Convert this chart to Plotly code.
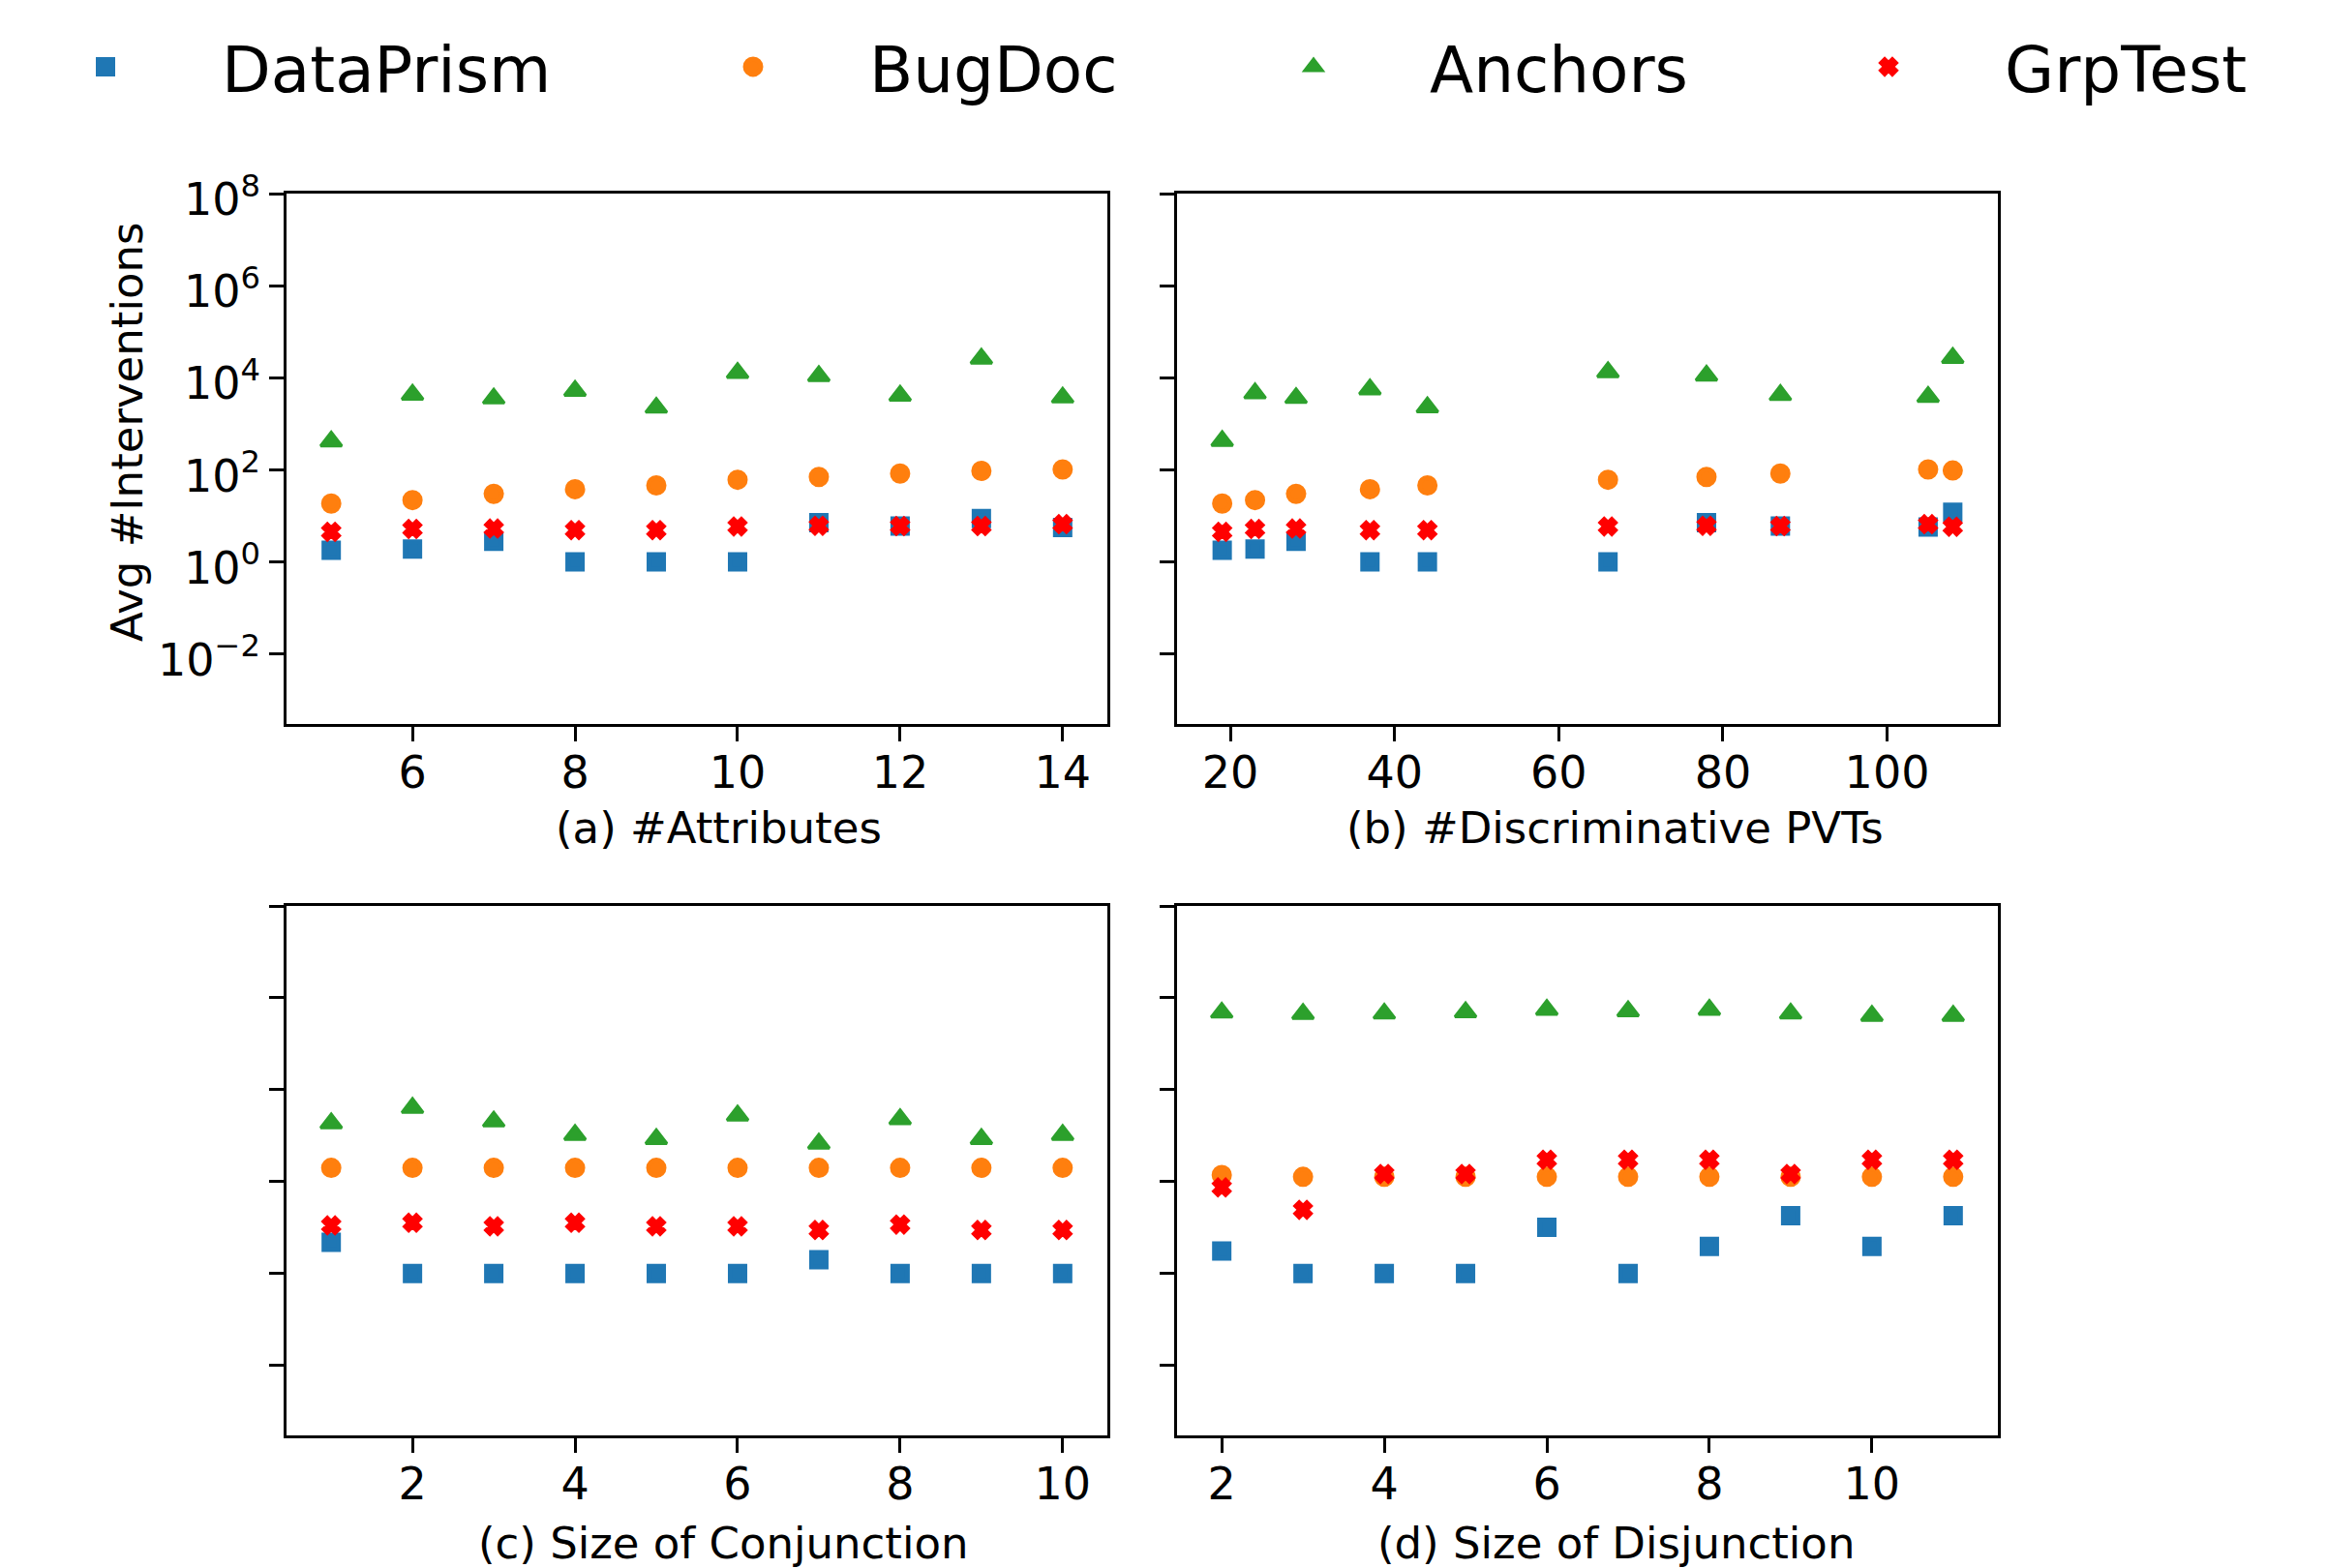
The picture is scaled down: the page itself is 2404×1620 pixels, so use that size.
import plotly.graph_objects as go

# ---------------- data ----------------
series_names = ["DataPrism", "BugDoc", "Anchors", "GrpTest"]
series_colors = ["#1f77b4", "#ff7f0e", "#2ca02c", "#ff0000"]
series_symbols = ["square", "circle", "triangle-up", "x"]
series_sizes = [15, 16, 19, 14]
series_linewidths = [5, 5, 3, 4]

# (a) #Attributes
attr_x = [5, 6, 7, 8, 9, 10, 11, 12, 13, 14]
attr_dataprism = [1.8, 1.9, 2.8, 1, 1, 1, 7.1, 6.0, 8.8, 5.6]
attr_bugdoc = [18.5, 22, 30, 38, 46, 61, 70, 83, 95, 102]
attr_anchors = [417, 4300, 3560, 5200, 2250, 12800, 10900, 4100, 26000, 3740]
attr_grptest = [4.5, 5.2, 5.3, 4.9, 4.9, 5.9, 6.1, 6.0, 6.0, 6.6]

# (b) #Discriminative PVTs
pvt_x = [19, 23, 28, 37, 44, 66, 78, 87, 105, 108]
pvt_dataprism = [1.8, 1.9, 2.8, 1, 1, 1, 7.1, 6.0, 5.7, 12]
pvt_bugdoc = [18.5, 22, 30, 38, 46, 61, 70, 83, 102, 97]
pvt_anchors = [425, 4600, 3650, 5600, 2300, 13200, 11200, 4230, 3860, 27000]
pvt_grptest = [4.5, 5.2, 5.3, 4.9, 4.9, 5.9, 6.1, 6.0, 6.6, 5.8]

# (c) Size of Conjunction
conj_x = [1, 2, 3, 4, 5, 6, 7, 8, 9, 10]
conj_dataprism = [4.8, 1, 1, 1, 1, 1, 2.0, 1, 1, 1]
conj_bugdoc = [200, 200, 200, 200, 200, 200, 200, 200, 200, 200]
conj_anchors = [1880, 4050, 2050, 1050, 855, 2760, 675, 2300, 855, 1050]
conj_grptest = [11.2, 12.8, 10.7, 12.8, 10.7, 10.7, 8.9, 11.7, 8.9, 8.9]

# (d) Size of Disjunction
disj_x = [2, 3, 4, 5, 6, 7, 8, 9, 10, 11]
disj_dataprism = [3.1, 1, 1, 1, 10.2, 1, 3.9, 18.2, 3.9, 18.2]
disj_bugdoc = [140, 128, 128, 128, 128, 128, 128, 128, 128, 128]
disj_anchors = [480000, 450000, 457000, 490000, 550000, 513000, 550000, 457000, 407000, 407000]
disj_grptest = [75, 24.5, 147, 147, 300, 300, 300, 147, 300, 300]

panel_titles = ["(a) #Attributes", "(b) #Discriminative PVTs",
                "(c) Size of Conjunction", "(d) Size of Disjunction"]
y_title = "Avg #Interventions"
y_tick_vals = [1e-2, 1e0, 1e2, 1e4, 1e6, 1e8]
y_tick_text = ["10<sup>\u22122</sup>", "10<sup>0</sup>", "10<sup>2</sup>",
               "10<sup>4</sup>", "10<sup>6</sup>", "10<sup>8</sup>"]

panels = [
    (attr_x, [attr_dataprism, attr_bugdoc, attr_anchors, attr_grptest]),
    (pvt_x, [pvt_dataprism, pvt_bugdoc, pvt_anchors, pvt_grptest]),
    (conj_x, [conj_dataprism, conj_bugdoc, conj_anchors, conj_grptest]),
    (disj_x, [disj_dataprism, disj_bugdoc, disj_anchors, disj_grptest]),
]

# ---------------- layout geometry ----------------
W, H = 2404, 1620
OFF = 8  # page offset of the figure inside the browser window
FONT = "DejaVu Sans"


def px_x(v):
    return (v - OFF) / W


def px_y(v):
    return 1 - (v - OFF) / H


x_domains = [[px_x(296), px_x(1144)], [px_x(1216), px_x(2064)],
             [px_x(296), px_x(1144)], [px_x(1216), px_x(2064)]]
y_domains = [[px_y(748), px_y(200)], [px_y(748), px_y(200)],
             [px_y(1483), px_y(936)], [px_y(1483), px_y(936)]]
x_ranges = [[4.45, 14.55], [13.5, 113.5], [0.45, 10.55], [1.45, 11.55]]
x_dticks = [2, 20, 2, 2]
legend_ids = ["legend", "legend2", "legend3", "legend4"]
legend_marker_px = [107, 776, 1355, 1949]
LEGEND_SYMBOL_OFFSET = 126

fig = go.Figure()

for p, (xs, ys_list) in enumerate(panels):
    suffix = "" if p == 0 else str(p + 1)
    for s, ys in enumerate(ys_list):
        fig.add_trace(go.Scatter(
            x=xs, y=ys, mode="markers",
            name=series_names[s],
            legendgroup=series_names[s],
            legend=legend_ids[s],
            showlegend=(p == 0),
            marker=dict(symbol=series_symbols[s], size=series_sizes[s],
                        color=series_colors[s],
                        line=dict(width=series_linewidths[s], color=series_colors[s])),
            xaxis="x" + suffix, yaxis="y" + suffix,
        ))

axis_common = dict(
    showline=True, linecolor="black", linewidth=2.5, mirror=True,
    ticks="outside", ticklen=15, tickwidth=2.5, tickcolor="black",
    showgrid=False, zeroline=False,
    tickfont=dict(family=FONT, size=46, color="black"),
)

layout = dict(
    width=W, height=H,
    margin=dict(l=0, r=0, t=0, b=0, autoexpand=False),
    paper_bgcolor="white", plot_bgcolor="white",
    font=dict(family=FONT, color="black"),
    showlegend=True,
)

for s, lid in enumerate(legend_ids):
    layout[lid] = dict(
        orientation="h",
        x=(legend_marker_px[s] - LEGEND_SYMBOL_OFFSET) / W, xanchor="left",
        y=1 - 61 / H, yanchor="middle",
        font=dict(family=FONT, size=66, color="black"),
        itemwidth=230, bgcolor="rgba(0,0,0,0)", borderwidth=0,
    )

for p in range(4):
    suffix = "" if p == 0 else str(p + 1)
    layout["xaxis" + suffix] = dict(
        axis_common, domain=x_domains[p], range=x_ranges[p],
        anchor="y" + suffix, tick0=0, dtick=x_dticks[p],
        ticklabelstandoff=-7,
    )
    layout["yaxis" + suffix] = dict(
        axis_common, domain=y_domains[p], type="log", range=[-3.52, 8],
        anchor="x" + suffix, tickmode="array", tickvals=y_tick_vals,
        ticktext=y_tick_text, showticklabels=(p == 0), ticklabelshift=6,
    )

fig.update_layout(**layout)

title_pos = [(742, 855), (1668, 855), (747, 1594), (1669, 1594)]
for p in range(4):
    fig.add_annotation(
        text=panel_titles[p], xref="paper", yref="paper",
        x=px_x(title_pos[p][0]), y=px_y(title_pos[p][1]),
        xanchor="center", yanchor="middle",
        showarrow=False, font=dict(family=FONT, size=45, color="black"),
    )

fig.add_annotation(
    text=y_title, xref="paper", yref="paper", x=px_x(131), y=px_y(447),
    xanchor="center", yanchor="middle", textangle=-90, showarrow=False,
    font=dict(family=FONT, size=45, color="black"),
)

fig.write_html("out.html")
